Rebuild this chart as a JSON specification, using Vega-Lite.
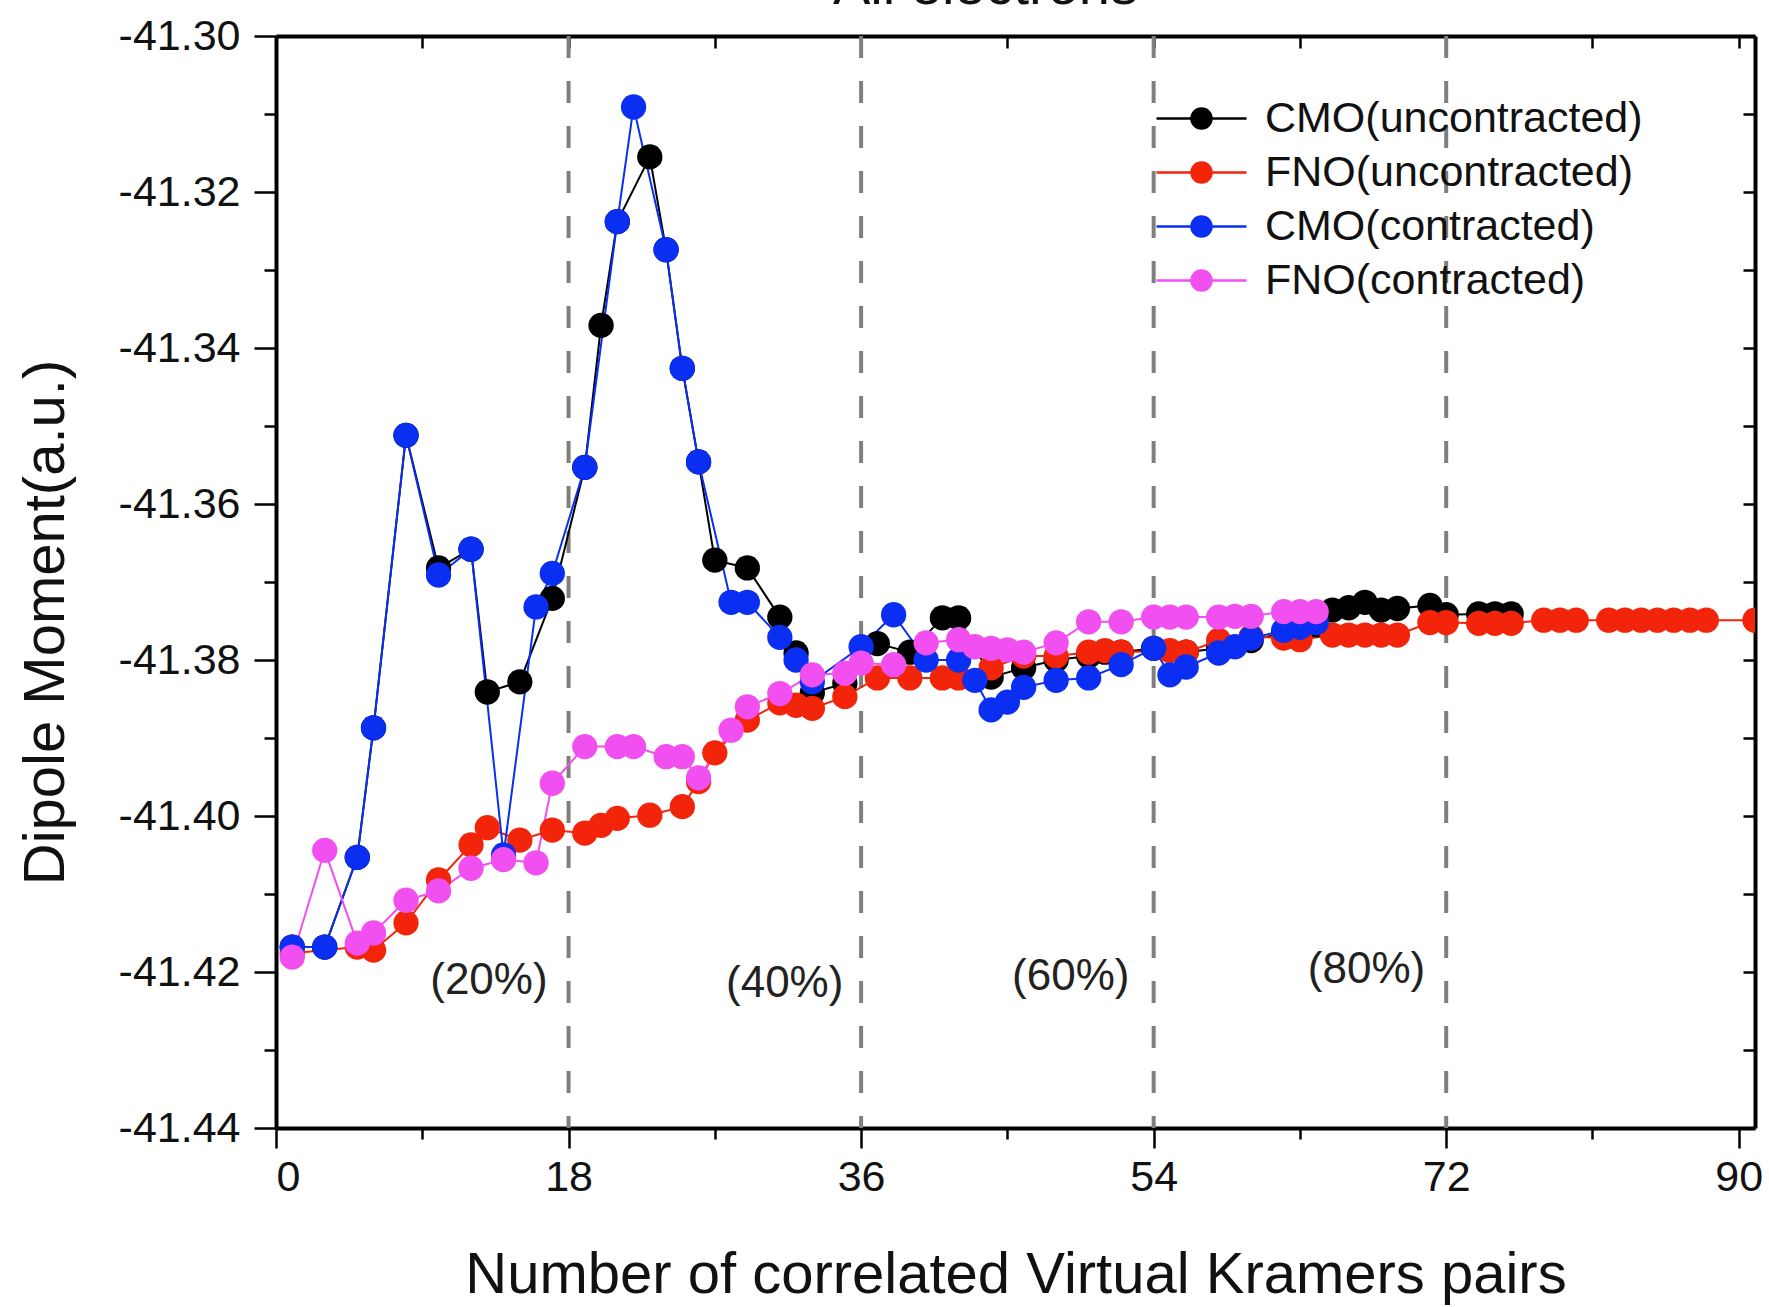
{
  "$schema": "https://vega.github.io/schema/vega-lite/v6.json",
  "autosize": {"type": "none"},
  "width": 1479,
  "height": 1092,
  "padding": {"left": 276, "top": 36, "right": 14, "bottom": 179},
  "background": "white",
  "config": {"view": {"stroke": null}, "font": "Liberation Sans"},
  "title": {"text": "All electrons", "fontSize": 56, "font": "Liberation Sans", "fontWeight": "normal", "color": "#111", "offset": 14, "dx": -30, "dy": 15, "anchor": "middle"},
  "datasets": {
    "series": [
      {"series": "CMO(uncontracted)", "pairs": 1, "dipole": -41.4168},
      {"series": "CMO(uncontracted)", "pairs": 3, "dipole": -41.4168},
      {"series": "CMO(uncontracted)", "pairs": 5, "dipole": -41.4053},
      {"series": "CMO(uncontracted)", "pairs": 6, "dipole": -41.3887},
      {"series": "CMO(uncontracted)", "pairs": 8, "dipole": -41.3512},
      {"series": "CMO(uncontracted)", "pairs": 10, "dipole": -41.3682},
      {"series": "CMO(uncontracted)", "pairs": 12, "dipole": -41.3658},
      {"series": "CMO(uncontracted)", "pairs": 13, "dipole": -41.3841},
      {"series": "CMO(uncontracted)", "pairs": 15, "dipole": -41.3828},
      {"series": "CMO(uncontracted)", "pairs": 17, "dipole": -41.3721},
      {"series": "CMO(uncontracted)", "pairs": 19, "dipole": -41.3553},
      {"series": "CMO(uncontracted)", "pairs": 20, "dipole": -41.3371},
      {"series": "CMO(uncontracted)", "pairs": 21, "dipole": -41.3238},
      {"series": "CMO(uncontracted)", "pairs": 23, "dipole": -41.3155},
      {"series": "CMO(uncontracted)", "pairs": 24, "dipole": -41.3274},
      {"series": "CMO(uncontracted)", "pairs": 25, "dipole": -41.3426},
      {"series": "CMO(uncontracted)", "pairs": 26, "dipole": -41.3546},
      {"series": "CMO(uncontracted)", "pairs": 27, "dipole": -41.3672},
      {"series": "CMO(uncontracted)", "pairs": 29, "dipole": -41.3682},
      {"series": "CMO(uncontracted)", "pairs": 31, "dipole": -41.3745},
      {"series": "CMO(uncontracted)", "pairs": 32, "dipole": -41.3791},
      {"series": "CMO(uncontracted)", "pairs": 33, "dipole": -41.3842},
      {"series": "CMO(uncontracted)", "pairs": 35, "dipole": -41.3830},
      {"series": "CMO(uncontracted)", "pairs": 37, "dipole": -41.3779},
      {"series": "CMO(uncontracted)", "pairs": 39, "dipole": -41.3790},
      {"series": "CMO(uncontracted)", "pairs": 41, "dipole": -41.3746},
      {"series": "CMO(uncontracted)", "pairs": 42, "dipole": -41.3746},
      {"series": "CMO(uncontracted)", "pairs": 44, "dipole": -41.3822},
      {"series": "CMO(uncontracted)", "pairs": 46, "dipole": -41.3810},
      {"series": "CMO(uncontracted)", "pairs": 48, "dipole": -41.3800},
      {"series": "CMO(uncontracted)", "pairs": 50, "dipole": -41.3795},
      {"series": "CMO(uncontracted)", "pairs": 51, "dipole": -41.3790},
      {"series": "CMO(uncontracted)", "pairs": 52, "dipole": -41.3790},
      {"series": "CMO(uncontracted)", "pairs": 54, "dipole": -41.3785},
      {"series": "CMO(uncontracted)", "pairs": 56, "dipole": -41.3790},
      {"series": "CMO(uncontracted)", "pairs": 58, "dipole": -41.3785},
      {"series": "CMO(uncontracted)", "pairs": 60, "dipole": -41.3775},
      {"series": "CMO(uncontracted)", "pairs": 62, "dipole": -41.3765},
      {"series": "CMO(uncontracted)", "pairs": 64, "dipole": -41.3755},
      {"series": "CMO(uncontracted)", "pairs": 65, "dipole": -41.3736},
      {"series": "CMO(uncontracted)", "pairs": 66, "dipole": -41.3733},
      {"series": "CMO(uncontracted)", "pairs": 67, "dipole": -41.3726},
      {"series": "CMO(uncontracted)", "pairs": 68, "dipole": -41.3736},
      {"series": "CMO(uncontracted)", "pairs": 69, "dipole": -41.3734},
      {"series": "CMO(uncontracted)", "pairs": 71, "dipole": -41.3730},
      {"series": "CMO(uncontracted)", "pairs": 72, "dipole": -41.3742},
      {"series": "CMO(uncontracted)", "pairs": 74, "dipole": -41.3741},
      {"series": "CMO(uncontracted)", "pairs": 75, "dipole": -41.3741},
      {"series": "CMO(uncontracted)", "pairs": 76, "dipole": -41.3741},
      {"series": "FNO(uncontracted)", "pairs": 1, "dipole": -41.4176},
      {"series": "FNO(uncontracted)", "pairs": 5, "dipole": -41.4168},
      {"series": "FNO(uncontracted)", "pairs": 6, "dipole": -41.4172},
      {"series": "FNO(uncontracted)", "pairs": 8, "dipole": -41.4137},
      {"series": "FNO(uncontracted)", "pairs": 10, "dipole": -41.4082},
      {"series": "FNO(uncontracted)", "pairs": 12, "dipole": -41.4037},
      {"series": "FNO(uncontracted)", "pairs": 13, "dipole": -41.4015},
      {"series": "FNO(uncontracted)", "pairs": 15, "dipole": -41.4031},
      {"series": "FNO(uncontracted)", "pairs": 17, "dipole": -41.4018},
      {"series": "FNO(uncontracted)", "pairs": 19, "dipole": -41.4022},
      {"series": "FNO(uncontracted)", "pairs": 20, "dipole": -41.4012},
      {"series": "FNO(uncontracted)", "pairs": 21, "dipole": -41.4003},
      {"series": "FNO(uncontracted)", "pairs": 23, "dipole": -41.3999},
      {"series": "FNO(uncontracted)", "pairs": 25, "dipole": -41.3988},
      {"series": "FNO(uncontracted)", "pairs": 26, "dipole": -41.3956},
      {"series": "FNO(uncontracted)", "pairs": 27, "dipole": -41.3919},
      {"series": "FNO(uncontracted)", "pairs": 29, "dipole": -41.3877},
      {"series": "FNO(uncontracted)", "pairs": 31, "dipole": -41.3855},
      {"series": "FNO(uncontracted)", "pairs": 32, "dipole": -41.3858},
      {"series": "FNO(uncontracted)", "pairs": 33, "dipole": -41.3862},
      {"series": "FNO(uncontracted)", "pairs": 35, "dipole": -41.3847},
      {"series": "FNO(uncontracted)", "pairs": 37, "dipole": -41.3823},
      {"series": "FNO(uncontracted)", "pairs": 39, "dipole": -41.3823},
      {"series": "FNO(uncontracted)", "pairs": 41, "dipole": -41.3823},
      {"series": "FNO(uncontracted)", "pairs": 42, "dipole": -41.3823},
      {"series": "FNO(uncontracted)", "pairs": 44, "dipole": -41.3810},
      {"series": "FNO(uncontracted)", "pairs": 46, "dipole": -41.3795},
      {"series": "FNO(uncontracted)", "pairs": 48, "dipole": -41.3795},
      {"series": "FNO(uncontracted)", "pairs": 50, "dipole": -41.3790},
      {"series": "FNO(uncontracted)", "pairs": 51, "dipole": -41.3788},
      {"series": "FNO(uncontracted)", "pairs": 52, "dipole": -41.3790},
      {"series": "FNO(uncontracted)", "pairs": 55, "dipole": -41.3788},
      {"series": "FNO(uncontracted)", "pairs": 56, "dipole": -41.3790},
      {"series": "FNO(uncontracted)", "pairs": 58, "dipole": -41.3775},
      {"series": "FNO(uncontracted)", "pairs": 60, "dipole": -41.3770},
      {"series": "FNO(uncontracted)", "pairs": 62, "dipole": -41.3772},
      {"series": "FNO(uncontracted)", "pairs": 63, "dipole": -41.3774},
      {"series": "FNO(uncontracted)", "pairs": 65, "dipole": -41.3768},
      {"series": "FNO(uncontracted)", "pairs": 66, "dipole": -41.3768},
      {"series": "FNO(uncontracted)", "pairs": 67, "dipole": -41.3768},
      {"series": "FNO(uncontracted)", "pairs": 68, "dipole": -41.3768},
      {"series": "FNO(uncontracted)", "pairs": 69, "dipole": -41.3768},
      {"series": "FNO(uncontracted)", "pairs": 71, "dipole": -41.3752},
      {"series": "FNO(uncontracted)", "pairs": 72, "dipole": -41.3752},
      {"series": "FNO(uncontracted)", "pairs": 74, "dipole": -41.3753},
      {"series": "FNO(uncontracted)", "pairs": 75, "dipole": -41.3753},
      {"series": "FNO(uncontracted)", "pairs": 76, "dipole": -41.3753},
      {"series": "FNO(uncontracted)", "pairs": 78, "dipole": -41.3749},
      {"series": "FNO(uncontracted)", "pairs": 79, "dipole": -41.3749},
      {"series": "FNO(uncontracted)", "pairs": 80, "dipole": -41.3749},
      {"series": "FNO(uncontracted)", "pairs": 82, "dipole": -41.3749},
      {"series": "FNO(uncontracted)", "pairs": 83, "dipole": -41.3749},
      {"series": "FNO(uncontracted)", "pairs": 84, "dipole": -41.3749},
      {"series": "FNO(uncontracted)", "pairs": 85, "dipole": -41.3749},
      {"series": "FNO(uncontracted)", "pairs": 86, "dipole": -41.3749},
      {"series": "FNO(uncontracted)", "pairs": 87, "dipole": -41.3749},
      {"series": "FNO(uncontracted)", "pairs": 88, "dipole": -41.3749},
      {"series": "FNO(uncontracted)", "pairs": 91, "dipole": -41.3749},
      {"series": "CMO(contracted)", "pairs": 1, "dipole": -41.4168},
      {"series": "CMO(contracted)", "pairs": 3, "dipole": -41.4168},
      {"series": "CMO(contracted)", "pairs": 5, "dipole": -41.4053},
      {"series": "CMO(contracted)", "pairs": 6, "dipole": -41.3887},
      {"series": "CMO(contracted)", "pairs": 8, "dipole": -41.3512},
      {"series": "CMO(contracted)", "pairs": 10, "dipole": -41.3691},
      {"series": "CMO(contracted)", "pairs": 12, "dipole": -41.3658},
      {"series": "CMO(contracted)", "pairs": 14, "dipole": -41.4050},
      {"series": "CMO(contracted)", "pairs": 16, "dipole": -41.3732},
      {"series": "CMO(contracted)", "pairs": 17, "dipole": -41.3689},
      {"series": "CMO(contracted)", "pairs": 19, "dipole": -41.3553},
      {"series": "CMO(contracted)", "pairs": 21, "dipole": -41.3238},
      {"series": "CMO(contracted)", "pairs": 22, "dipole": -41.3091},
      {"series": "CMO(contracted)", "pairs": 24, "dipole": -41.3274},
      {"series": "CMO(contracted)", "pairs": 25, "dipole": -41.3426},
      {"series": "CMO(contracted)", "pairs": 26, "dipole": -41.3546},
      {"series": "CMO(contracted)", "pairs": 28, "dipole": -41.3726},
      {"series": "CMO(contracted)", "pairs": 29, "dipole": -41.3726},
      {"series": "CMO(contracted)", "pairs": 31, "dipole": -41.3771},
      {"series": "CMO(contracted)", "pairs": 32, "dipole": -41.3800},
      {"series": "CMO(contracted)", "pairs": 33, "dipole": -41.3828},
      {"series": "CMO(contracted)", "pairs": 36, "dipole": -41.3783},
      {"series": "CMO(contracted)", "pairs": 38, "dipole": -41.3742},
      {"series": "CMO(contracted)", "pairs": 40, "dipole": -41.3800},
      {"series": "CMO(contracted)", "pairs": 42, "dipole": -41.3800},
      {"series": "CMO(contracted)", "pairs": 43, "dipole": -41.3826},
      {"series": "CMO(contracted)", "pairs": 44, "dipole": -41.3864},
      {"series": "CMO(contracted)", "pairs": 45, "dipole": -41.3854},
      {"series": "CMO(contracted)", "pairs": 46, "dipole": -41.3835},
      {"series": "CMO(contracted)", "pairs": 48, "dipole": -41.3826},
      {"series": "CMO(contracted)", "pairs": 50, "dipole": -41.3823},
      {"series": "CMO(contracted)", "pairs": 52, "dipole": -41.3806},
      {"series": "CMO(contracted)", "pairs": 54, "dipole": -41.3785},
      {"series": "CMO(contracted)", "pairs": 55, "dipole": -41.3819},
      {"series": "CMO(contracted)", "pairs": 56, "dipole": -41.3809},
      {"series": "CMO(contracted)", "pairs": 58, "dipole": -41.3791},
      {"series": "CMO(contracted)", "pairs": 59, "dipole": -41.3783},
      {"series": "CMO(contracted)", "pairs": 60, "dipole": -41.3772},
      {"series": "CMO(contracted)", "pairs": 62, "dipole": -41.3762},
      {"series": "CMO(contracted)", "pairs": 63, "dipole": -41.3758},
      {"series": "CMO(contracted)", "pairs": 64, "dipole": -41.3752},
      {"series": "FNO(contracted)", "pairs": 1, "dipole": -41.4181},
      {"series": "FNO(contracted)", "pairs": 3, "dipole": -41.4044},
      {"series": "FNO(contracted)", "pairs": 5, "dipole": -41.4163},
      {"series": "FNO(contracted)", "pairs": 6, "dipole": -41.4150},
      {"series": "FNO(contracted)", "pairs": 8, "dipole": -41.4108},
      {"series": "FNO(contracted)", "pairs": 10, "dipole": -41.4096},
      {"series": "FNO(contracted)", "pairs": 12, "dipole": -41.4067},
      {"series": "FNO(contracted)", "pairs": 14, "dipole": -41.4056},
      {"series": "FNO(contracted)", "pairs": 16, "dipole": -41.4060},
      {"series": "FNO(contracted)", "pairs": 17, "dipole": -41.3958},
      {"series": "FNO(contracted)", "pairs": 19, "dipole": -41.3911},
      {"series": "FNO(contracted)", "pairs": 21, "dipole": -41.3911},
      {"series": "FNO(contracted)", "pairs": 22, "dipole": -41.3911},
      {"series": "FNO(contracted)", "pairs": 24, "dipole": -41.3924},
      {"series": "FNO(contracted)", "pairs": 25, "dipole": -41.3924},
      {"series": "FNO(contracted)", "pairs": 26, "dipole": -41.3951},
      {"series": "FNO(contracted)", "pairs": 28, "dipole": -41.3890},
      {"series": "FNO(contracted)", "pairs": 29, "dipole": -41.3860},
      {"series": "FNO(contracted)", "pairs": 31, "dipole": -41.3843},
      {"series": "FNO(contracted)", "pairs": 33, "dipole": -41.3819},
      {"series": "FNO(contracted)", "pairs": 35, "dipole": -41.3817},
      {"series": "FNO(contracted)", "pairs": 36, "dipole": -41.3804},
      {"series": "FNO(contracted)", "pairs": 38, "dipole": -41.3806},
      {"series": "FNO(contracted)", "pairs": 40, "dipole": -41.3778},
      {"series": "FNO(contracted)", "pairs": 42, "dipole": -41.3774},
      {"series": "FNO(contracted)", "pairs": 43, "dipole": -41.3783},
      {"series": "FNO(contracted)", "pairs": 44, "dipole": -41.3785},
      {"series": "FNO(contracted)", "pairs": 45, "dipole": -41.3787},
      {"series": "FNO(contracted)", "pairs": 46, "dipole": -41.3790},
      {"series": "FNO(contracted)", "pairs": 48, "dipole": -41.3778},
      {"series": "FNO(contracted)", "pairs": 50, "dipole": -41.3751},
      {"series": "FNO(contracted)", "pairs": 52, "dipole": -41.3751},
      {"series": "FNO(contracted)", "pairs": 54, "dipole": -41.3745},
      {"series": "FNO(contracted)", "pairs": 55, "dipole": -41.3745},
      {"series": "FNO(contracted)", "pairs": 56, "dipole": -41.3745},
      {"series": "FNO(contracted)", "pairs": 58, "dipole": -41.3745},
      {"series": "FNO(contracted)", "pairs": 59, "dipole": -41.3744},
      {"series": "FNO(contracted)", "pairs": 60, "dipole": -41.3744},
      {"series": "FNO(contracted)", "pairs": 62, "dipole": -41.3738},
      {"series": "FNO(contracted)", "pairs": 63, "dipole": -41.3738},
      {"series": "FNO(contracted)", "pairs": 64, "dipole": -41.3738}
    ],
    "splits": [{"pairs": 18}, {"pairs": 36}, {"pairs": 54}, {"pairs": 72}],
    "labels": [
      {"label": "(20%)", "pairs": 13.1, "dipole": -41.4212},
      {"label": "(40%)", "pairs": 31.3, "dipole": -41.4215},
      {"label": "(60%)", "pairs": 48.9, "dipole": -41.4206},
      {"label": "(80%)", "pairs": 67.1, "dipole": -41.4198}
    ]
  },
  "layer": [
    {
      "layer": [
        {
          "data": {"name": "splits"},
          "mark": {"type": "rule", "color": "#7f7f7f", "strokeWidth": 4, "strokeDash": [22, 23]},
          "encoding": {
            "x": {"field": "pairs", "type": "quantitative", "scale": {"domain": [0, 91], "nice": false, "zero": false}}
          }
        },
        {
          "data": {"name": "series"},
          "mark": {"type": "line", "strokeWidth": 2, "clip": true},
          "encoding": {
            "x": {"field": "pairs", "type": "quantitative", "scale": {"domain": [0, 91], "nice": false, "zero": false},
              "axis": {"title": "Number of correlated Virtual Kramers pairs", "values": [0, 9, 18, 27, 36, 45, 54, 63, 72, 81, 90],
                "labelExpr": "datum.value % 18 === 0 ? datum.label : ''",
                "tickSize": {"condition": {"test": "datum.value % 18 === 0", "value": 20}, "value": 11},
                "tickWidth": 2.5, "tickColor": "#000", "domainColor": "#000", "domainWidth": 4,
                "labelFontSize": 43, "labelFont": "Liberation Sans", "labelColor": "#111", "labelPadding": 8,
                "titleFontSize": 58, "titleFont": "Liberation Sans", "titleFontWeight": "normal", "titleColor": "#111", "titlePadding": 47, "grid": false}},
            "y": {"field": "dipole", "type": "quantitative", "scale": {"domain": [-41.44, -41.30], "nice": false, "zero": false},
              "axis": {"title": "Dipole Moment(a.u.)", "values": [-41.44, -41.43, -41.42, -41.41, -41.40, -41.39, -41.38, -41.37, -41.36, -41.35, -41.34, -41.33, -41.32, -41.31, -41.30],
                "labelExpr": "abs(round(datum.value*100)) % 2 === 0 ? replace(format(datum.value, '.2f'), '\u2212', '-') : ''",
                "tickSize": {"condition": {"test": "abs(round(datum.value*100)) % 2 === 0", "value": 22}, "value": 12},
                "tickWidth": 2.5, "tickColor": "#000", "domainColor": "#000", "domainWidth": 4,
                "labelFontSize": 43, "labelFont": "Liberation Sans", "labelColor": "#111", "labelPadding": 14,
                "titleFontSize": 58, "titleFont": "Liberation Sans", "titleFontWeight": "normal", "titleColor": "#111", "titlePadding": 43, "titleY": 586, "grid": false}},
            "color": {"field": "series", "type": "nominal",
              "scale": {"domain": ["CMO(uncontracted)", "FNO(uncontracted)", "CMO(contracted)", "FNO(contracted)"], "range": ["#000000", "#F2240A", "#0A2EF2", "#F24FF0"]},
              "legend": {"title": null, "orient": "none", "legendX": 904, "legendY": 61, "padding": 0,
                "labelFontSize": 43, "labelFont": "Liberation Sans", "labelColor": "#111", "labelOffset": 42, "labelLimit": 800, "rowPadding": 10,
                "symbolType": "M-4.5,0L-1,0M1,0L4.5,0M-1,0A1,1,0,1,0,1,0A1,1,0,1,0,-1,0Z", "symbolSize": 400, "symbolStrokeWidth": 2.5,
                "encode": {"symbols": {"update": {"fill": {"scale": "color", "field": "value"}, "stroke": {"scale": "color", "field": "value"}, "opacity": {"value": 1}, "fillOpacity": {"value": 1}}}}}}
          }
        },
        {
          "data": {"name": "series"},
          "mark": {"type": "point", "filled": true, "size": 640, "opacity": 1, "clip": true, "shape": "circle"},
          "encoding": {
            "x": {"field": "pairs", "type": "quantitative", "scale": {"domain": [0, 91], "nice": false, "zero": false}},
            "y": {"field": "dipole", "type": "quantitative", "scale": {"domain": [-41.44, -41.30], "nice": false, "zero": false}},
            "color": {"field": "series", "type": "nominal"}
          }
        },
        {
          "data": {"name": "labels"},
          "mark": {"type": "text", "fontSize": 44, "font": "Liberation Sans", "color": "#222", "align": "center", "baseline": "middle"},
          "encoding": {
            "x": {"field": "pairs", "type": "quantitative", "scale": {"domain": [0, 91], "nice": false, "zero": false}},
            "y": {"field": "dipole", "type": "quantitative", "scale": {"domain": [-41.44, -41.30], "nice": false, "zero": false}},
            "text": {"field": "label"}
          }
        }
      ]
    },
    {
      "data": {"name": "labels"},
      "mark": {"type": "text", "opacity": 0},
      "encoding": {
        "x": {"field": "pairs", "type": "quantitative", "scale": {"domain": [0, 91], "nice": false, "zero": false},
          "axis": {"orient": "top", "title": null, "labels": false, "values": [0, 9, 18, 27, 36, 45, 54, 63, 72, 81, 90], "tickSize": -12, "tickWidth": 2.5, "tickColor": "#000", "domainColor": "#000", "domainWidth": 4, "grid": false}},
        "y": {"field": "dipole", "type": "quantitative", "scale": {"domain": [-41.44, -41.30], "nice": false, "zero": false},
          "axis": {"orient": "right", "title": null, "labels": false, "values": [-41.44, -41.43, -41.42, -41.41, -41.40, -41.39, -41.38, -41.37, -41.36, -41.35, -41.34, -41.33, -41.32, -41.31, -41.30], "tickSize": -12, "tickWidth": 2.5, "tickColor": "#000", "domainColor": "#000", "domainWidth": 4, "grid": false}},
        "text": {"field": "label"}
      }
    }
  ],
  "resolve": {"scale": {"x": "independent", "y": "independent"}, "axis": {"x": "independent", "y": "independent"}}
}
